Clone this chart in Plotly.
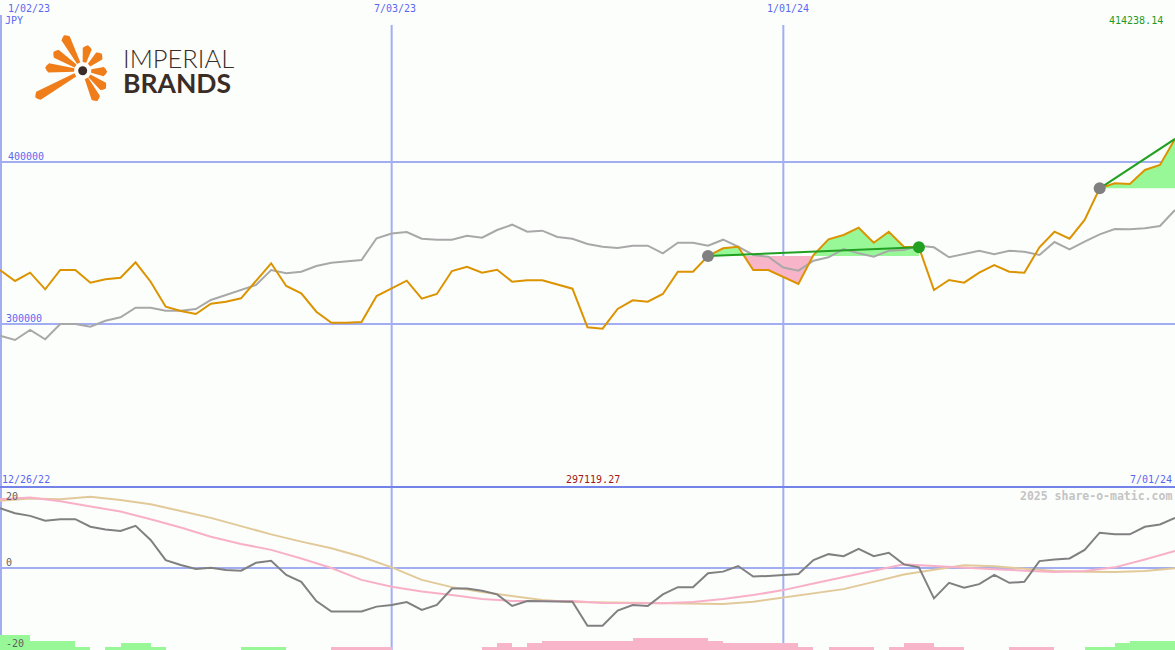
import pandas as pd
import plotly.graph_objects as go

W, H = 1175, 650

# weekly closes, JPY
weeks = pd.date_range("2023-01-02", periods=79, freq="7D")
price = [333334, 326544, 331667, 321420, 333334, 333334, 325494, 327593, 328581, 338087,
         326112, 310680, 308025, 306173, 312531, 313766, 315865, 326729, 337470, 323457,
         318951, 307593, 300803, 300803, 301235, 317284, 321914, 326729, 315617, 318519,
         332716, 335371, 331667, 333519, 326112, 326976, 326976, 324259, 321790, 297963,
         297119.27, 309260, 314630, 313766, 318519, 332284, 332284, 341976, 346729, 347716,
         333334, 333334, 329013, 324692, 342593, 352284, 354939, 359445, 350186, 356976,
         347716, 347346, 320988, 327161, 325494, 331667, 336420, 332284, 331667, 347346,
         356976, 352654, 364198, 383765, 386852, 386420, 395062, 398148, 414238.14]
# comparison line (grey)
relative = [292778, 290124, 296296, 290556, 300000, 300000, 298334, 302037, 304136, 310062,
            310062, 308210, 308210, 309260, 314815, 317902, 320556, 324075, 333334, 331297,
            332284, 335803, 337840, 338457, 339507, 352902, 355864, 356790, 352654, 352037,
            352037, 354506, 353272, 358025, 361297, 356976, 357593, 353704, 352654, 349383,
            347716, 346914, 348334, 348334, 343642, 350186, 350186, 348334, 352037, 347716,
            342593, 341543, 334877, 332902, 339074, 341173, 346297, 343642, 341543, 345247,
            345679, 348334, 347346, 341173, 343210, 345247, 343025, 345247, 344630, 342593,
            350618, 346111, 350803, 355371, 358642, 358457, 359074, 360494, 370371]
# lower panel
momentum = [18.1, 16.6, 15.8, 14.3, 14.8, 14.8, 12.5, 11.7, 11.2, 12.8,
            8.5, 2.4, 0.9, -0.3, 0.1, -0.6, -0.8, 1.6, 2.2, -2.1,
            -4.2, -10.0, -13.2, -13.2, -13.2, -11.7, -11.2, -10.3, -12.7, -11.2,
            -6.2, -6.2, -6.9, -8.0, -11.5, -10.0, -10.0, -10.0, -10.2, -17.5,
            -17.5, -12.9, -11.2, -11.5, -8.0, -5.8, -5.8, -1.6, -1.1, 0.6,
            -2.6, -2.4, -2.1, -1.8, 2.4, 4.2, 3.6, 5.8, 3.6, 4.6,
            1.1, 0.2, -9.2, -4.5, -6.0, -4.9, -2.1, -4.5, -4.2, 2.1,
            2.6, 2.9, 5.5, 10.7, 10.2, 10.2, 12.5, 13.2, 15.2]
weeks2 = weeks[::2]
fast_avg = [20.8, 21.4, 20.2, 18.6, 17.1, 14.8, 12.3, 9.5, 7.3, 5.5,
            2.9, 0.0, -3.6, -5.7, -7.1, -8.2, -9.4, -10.0, -10.0, -10.0,
            -10.6, -10.7, -10.7, -10.3, -9.4, -8.2, -6.7, -4.7, -2.7, -0.8,
            1.1, 0.6, 0.0, -0.4, -0.8, -1.2, -0.9, 0.2, 2.6, 5.2]
slow_avg = [20.4, 21.1, 20.8, 21.6, 20.6, 19.3, 17.3, 15.2, 12.7, 10.2,
            8.0, 6.0, 3.4, 0.2, -3.6, -5.8, -7.3, -8.5, -9.7, -10.3,
            -10.4, -10.4, -10.7, -10.7, -10.9, -10.2, -8.9, -7.6, -6.4, -4.2,
            -2.0, -0.5, 0.8, 0.5, -0.3, -0.9, -1.1, -1.2, -0.9, -0.1]
hist = [4.5, 4.5, 2.7, 2.7, 2.7, 1, 0, 1, 2, 2, 1, 0, 0, 0, 0, 0, 1, 1, 1, 0,
        0, 0, -1, -1, -1, -1, 0, 0, 0, 0, 0, 0, -1, -2, -1, -2, -2.8, -2.8, -2.8, -2.8,
        -2.8, -2.8, -3.7, -3.7, -3.7, -3.7, -3.7, -2.8, -2, -2, -2, -2, -2, -1, 0, -1,
        -1, -1, 0, -1, -2, -2, -1, -1, 0, 0, 0, -1, -1, -1, 0, 0, 1, 1, 2, 2.8, 2.8, 2.8]
trends = [(47, 61, True), (73, 78, False)]

BG = "#fcfefc"
GRID = "#a3aef2"
LBL = "#5a68f0"
ORANGE = "#dc9300"
GREEN = "#22a022"
MONO = "DejaVu Sans Mono"

top_range = [199383, 500000]
bot_range = [-24.85, 24.55]
split = 1 - 487 / H


def px(x):
    return x / W


def py(y):
    return 1 - y / H


def trend_fill(i0, i1):
    base = price[i0]
    xs, ys = [], []
    for i in range(i0, i1 + 1):
        if i > i0:
            a, b = price[i - 1] - base, price[i] - base
            if a * b < 0:
                t = a / (a - b)
                xs.append(weeks[i - 1] + (weeks[i] - weeks[i - 1]) * t)
                ys.append(base)
        xs.append(weeks[i])
        ys.append(price[i])
    return xs, base, [max(y, base) for y in ys], [min(y, base) for y in ys]


fig = go.Figure()

# histogram bars along the floor of the lower panel
fig.add_trace(go.Bar(
    x=weeks[:-1], y=[abs(v) for v in hist], base=bot_range[0],
    offset=0, width=7 * 86400000,
    marker=dict(color=["#98f898" if v > 0 else "#f8b4c8" for v in hist], line_width=0),
    xaxis="x", yaxis="y2", hoverinfo="skip"))

for i0, i1, _ in trends:
    xs, base, above, below = trend_fill(i0, i1)
    for edge, col in [(above, "#98f898"), (below, "#f8b4c8")]:
        fig.add_trace(go.Scatter(x=xs, y=[base] * len(xs), mode="lines",
                                 line=dict(width=0), hoverinfo="skip"))
        fig.add_trace(go.Scatter(x=xs, y=edge, mode="lines", line=dict(width=0),
                                 fill="tonexty", fillcolor=col, hoverinfo="skip"))

fig.add_trace(go.Scatter(x=weeks, y=relative, mode="lines",
                         line=dict(color="#a8a8a8", width=2)))
fig.add_trace(go.Scatter(x=weeks, y=price, mode="lines",
                         line=dict(color=ORANGE, width=2)))

for i0, i1, hit in trends:
    fig.add_trace(go.Scatter(x=[weeks[i0], weeks[i1]], y=[price[i0], price[i1]],
                             mode="lines", line=dict(color=GREEN, width=2)))
    fig.add_trace(go.Scatter(x=[weeks[i0]], y=[price[i0]], mode="markers",
                             marker=dict(color="#808080", size=12)))
    if hit:
        fig.add_trace(go.Scatter(x=[weeks[i1]], y=[price[i1]], mode="markers",
                                 marker=dict(color=GREEN, size=12)))

for ys, xs, col in [(slow_avg, weeks2, "#e2c999"), (fast_avg, weeks2, "#f8b0c8"),
                    (momentum, weeks, "#808080")]:
    fig.add_trace(go.Scatter(x=xs, y=ys, mode="lines", xaxis="x", yaxis="y2",
                             line=dict(color=col, width=2)))

shapes = []
for v in [300000, 400000]:
    shapes.append(dict(type="line", xref="paper", yref="y", x0=0, x1=1, y0=v, y1=v,
                       line=dict(color=GRID, width=2), layer="below"))
shapes.append(dict(type="line", xref="paper", yref="y2", x0=0, x1=1, y0=0, y1=0,
                   line=dict(color=GRID, width=2), layer="below"))
for d in ["2023-07-03", "2024-01-01"]:
    shapes.append(dict(type="line", xref="x", yref="paper", x0=d, x1=d, y0=0, y1=py(25),
                       line=dict(color=GRID, width=2), layer="below"))
shapes.append(dict(type="line", xref="paper", yref="paper", x0=px(1), x1=px(1), y0=0,
                   y1=py(15), line=dict(color=GRID, width=2), layer="below"))
shapes.append(dict(type="line", xref="paper", yref="paper", x0=0, x1=1, y0=split, y1=split,
                   line=dict(color="#7383ea", width=2)))

# Imperial Brands logo mark
cx, cy = 82.7, 70.7
rays = [(-18, -34), (5, -24), (18, -16), (23, 1), (22, 17), (14, 29), (-46, 26), (-36, -3), (-28, -18)]
for dx, dy in rays:
    ln = (dx * dx + dy * dy) ** 0.5
    ux, uy = dx / ln, dy / ln
    nx, ny = -uy, ux
    r0 = 8.5
    pts = [(cx + ux * r0 + nx * 1.8, cy + uy * r0 + ny * 1.8),
           (cx + dx - ux * 2 + nx * 4.6, cy + dy - uy * 2 + ny * 4.6),
           (cx + dx + nx * 2.5, cy + dy + ny * 2.5),
           (cx + dx + ux * 1.5, cy + dy + uy * 1.5),
           (cx + dx - nx * 2.5, cy + dy - ny * 2.5),
           (cx + dx - ux * 2 - nx * 4.6, cy + dy - uy * 2 - ny * 4.6),
           (cx + ux * r0 - nx * 1.8, cy + uy * r0 - ny * 1.8)]
    path = "M " + " L ".join(f"{px(x):.5f},{py(y):.5f}" for x, y in pts) + " Z"
    shapes.append(dict(type="path", xref="paper", yref="paper", path=path,
                       fillcolor="#ef7d1a", line=dict(width=0)))
shapes.append(dict(type="circle", xref="paper", yref="paper", x0=px(cx - 4.5), x1=px(cx + 4.5),
                   y0=py(cy + 4.5), y1=py(cy - 4.5), fillcolor="#3a2c26", line=dict(width=0)))

ann = []


def label(text, x, y, color=LBL, anchor="left", size=10, weight="normal", family=MONO):
    ann.append(dict(text=text, x=px(x), y=py(y), xref="paper", yref="paper", showarrow=False,
                    xanchor=anchor, yanchor="middle", borderpad=0,
                    font=dict(family=family, size=size, color=color, weight=weight)))


label("1/02/23", 7, 9)
label("JPY", 4, 20)
label("7/03/23", 395, 9, anchor="center")
label("1/01/24", 788, 9, anchor="center")
label("414238.14", 1164, 21, color="#1f9a1f", anchor="right")
label("400000", 7, 156)
label("300000", 5, 318)
label("12/26/22", 1, 479)
label("297119.27", 593, 479, color="#a01818", anchor="center")
label("7/01/24", 1173, 479, anchor="right")
label("2025 share-o-matic.com", 1173, 496, color="#c4c4c4", anchor="right", size=11.5, weight="bold")
label("20", 5, 496, color="#606060")
label("0", 5, 562, color="#606060")
label("-20", 5, 643, color="#606060")
label("IMPERIAL", 122, 57.5, color="#3a2c26", size=25.5, weight=300, family="Lato")
label("BRANDS", 122, 82.5, color="#3a2c26", size=26.5, weight="bold", family="Lato")

fig.update_layout(
    width=W, height=H, margin=dict(l=0, r=0, t=0, b=0),
    paper_bgcolor=BG, plot_bgcolor=BG, showlegend=False, bargap=0,
    xaxis=dict(range=[weeks[0], weeks[-1]], visible=False, anchor="y"),
    yaxis=dict(domain=[split, 1], range=top_range, visible=False),
    yaxis2=dict(domain=[0, split], range=bot_range, visible=False, anchor="x"),
    shapes=shapes, annotations=ann,
)

fig.write_html("out.html", config={"displayModeBar": False},
               post_script="document.body.style.margin='0';")
